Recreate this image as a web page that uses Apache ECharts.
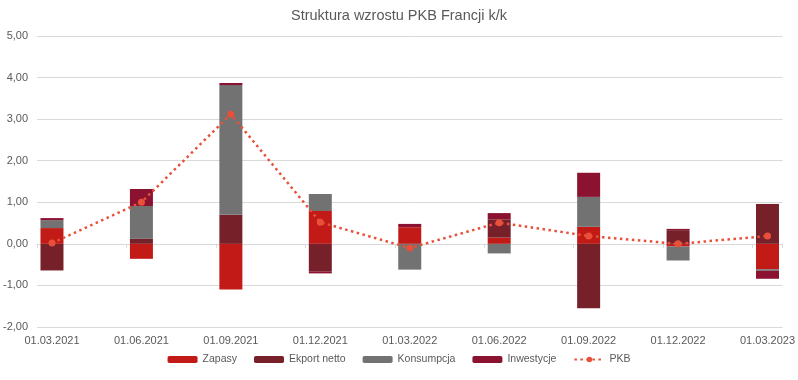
<!DOCTYPE html>
<html><head><meta charset="utf-8">
<script src="https://cdn.jsdelivr.net/npm/echarts@6/dist/echarts.min.js"></script>
<style>html,body{margin:0;padding:0;background:#fff}#c{width:798px;height:380px}</style>
</head><body><div id="c"></div>
<script>
var dates = ['01.03.2021','01.06.2021','01.09.2021','01.12.2021','01.03.2022','01.06.2022','01.09.2022','01.12.2022','01.03.2023'];
var zapasy = [0.38, -0.36, -1.10, 0.79, 0.40, 0.15, 0.41, -0.06, -0.61];
var eksport = [-0.64, 0.12, 0.70, -0.66, 0.00, 0.44, -1.55, 0.33, 0.96];
var konsumpcja = [0.19, 0.79, 3.12, 0.41, -0.62, -0.23, 0.72, -0.34, -0.04];
var inwestycje = [0.05, 0.41, 0.05, -0.05, 0.08, 0.15, 0.58, 0.03, -0.19];
var pkb = [0.02, 1.00, 3.12, 0.52, -0.10, 0.51, 0.19, 0.00, 0.19];
var yTicks = [-2, -1, 0, 1, 2, 3, 4, 5];

// monthly slots (date axis with quarterly data)
var STEP = 3;
var nSlots = (dates.length - 1) * STEP + 1;
var cats = [];
for (var i = 0; i < nSlots; i++) cats.push(i % STEP === 0 ? dates[i / STEP] : '_' + i);
function expand(arr) {
  var out = [];
  for (var i = 0; i < nSlots; i++) out.push(i % STEP === 0 ? arr[i / STEP] : null);
  return out;
}
var txt = '#595959';
var font = 'Liberation Sans, Arial, sans-serif';
var chart = echarts.init(document.getElementById('c'), null, {renderer: 'canvas'});
function bar(name, data, color) {
  return {name: name, type: 'bar', stack: 's', data: expand(data), barWidth: 23,
    itemStyle: {color: color}, z: 2};
}
chart.setOption({
  animation: false,
  textStyle: {fontFamily: font},
  title: {text: 'Struktura wzrostu PKB Francji k/k', left: 'center', top: 3,
    textStyle: {color: txt, fontSize: 14.5, fontWeight: 'normal', fontFamily: font}},
  grid: {left: 37, right: 13, top: 36, bottom: 53},
  legend: {bottom: 10, left: 'center', itemWidth: 30, itemHeight: 7, itemGap: 17,
    textStyle: {color: txt, fontSize: 10.5, fontFamily: font},
    data: ['Zapasy', 'Ekport netto', 'Konsumpcja', 'Inwestycje', 'PKB']},
  xAxis: [{
    type: 'category', data: cats, boundaryGap: true,
    axisLine: {onZero: true, lineStyle: {color: '#d9d9d9', width: 1}},
    axisTick: {show: true, interval: STEP - 1, length: 4, lineStyle: {color: '#d9d9d9'}},
    axisLabel: {show: false}, splitLine: {show: false}
  }, {
    type: 'category', data: cats, boundaryGap: true, position: 'bottom',
    axisLine: {show: false, onZero: false}, axisTick: {show: false},
    axisLabel: {interval: STEP - 1, color: txt, fontSize: 11, margin: 8, fontFamily: font}
  }],
  yAxis: {
    type: 'value', min: yTicks[0], max: yTicks[yTicks.length - 1], interval: 1,
    axisLine: {show: false}, axisTick: {show: false},
    axisLabel: {color: txt, fontSize: 11, margin: 9, fontFamily: font,
      formatter: function (v) { return v.toFixed(2).replace('.', ','); }},
    splitLine: {lineStyle: {color: '#d9d9d9', width: 1}}
  },
  series: [
    bar('Zapasy', zapasy, '#C21B17'),
    bar('Ekport netto', eksport, '#76212A'),
    bar('Konsumpcja', konsumpcja, '#727272'),
    bar('Inwestycje', inwestycje, '#8C1232'),
    {name: 'PKB', type: 'line', data: expand(pkb), connectNulls: true, z: 5,
      symbol: 'circle', symbolSize: 7, showSymbol: true,
      lineStyle: {color: '#E8503A', width: 2.5, type: [2.5, 3.5], cap: 'butt'},
      itemStyle: {color: '#E8503A'}}
  ]
});
</script></body></html>
